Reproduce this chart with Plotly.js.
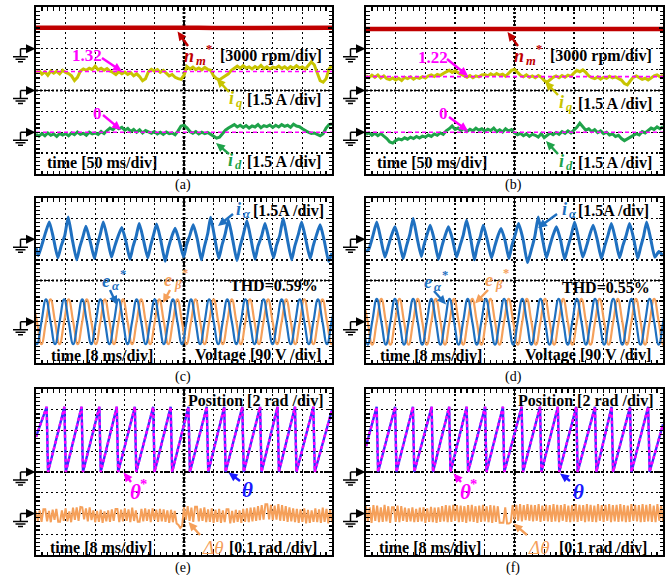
<!DOCTYPE html>
<html><head><meta charset="utf-8">
<script src="https://cdn.plot.ly/plotly-3.0.1.min.js"></script>
<style>html,body{margin:0;padding:0;background:#fff}</style>
</head><body><div id="chart" style="width:667px;height:575px"></div>
<script>
// ---------------- DATA ----------------
// (a),(b): time grid 0..500 ms, 5 ms step
const nm_a = [3005,2990,3010,2995,3000,3012,2988,3004,2996,3008,2992,3006,2998,3010,2990,3002,3008,2994,3006,2998,3004];
const nm_b = [2830,2838,2825,2835,2828,2840,2830,2824,2836,2830,2828,2838,2832,2826,2835,2830,2838,2828,2832,2836,2830];
const iq_a = [1.30,1.42,1.18,1.35,1.10,1.40,1.25,1.38,1.20,1.45,
 1.30,1.22,1.05,0.72,0.95,1.40,1.55,1.45,1.60,1.50,
 1.75,1.48,1.60,1.45,1.58,1.40,1.30,1.15,1.35,1.20,
 1.32,1.15,1.28,1.05,1.20,1.00,0.70,0.85,1.35,1.52,
 1.40,1.50,1.30,1.45,1.25,1.05,1.15,0.95,0.85,0.80,
 1.10,1.72,1.55,1.68,1.50,1.62,1.48,1.66,1.52,1.45,
 1.05,0.85,0.78,0.92,1.05,1.20,1.45,1.62,1.75,1.60,
 1.78,1.62,1.70,1.55,1.72,1.60,1.80,1.58,1.70,1.55,
 1.68,1.62,1.75,1.58,1.70,1.55,1.72,1.60,1.78,1.62,
 1.70,1.55,1.80,2.05,1.85,1.20,0.70,0.60,0.85,1.55,1.80];
const id_a = [-0.15,-0.28,-0.10,-0.25,-0.05,-0.22,-0.12,-0.30,-0.08,-0.20,
 -0.10,-0.25,-0.05,-0.18,0.02,-0.15,-0.08,-0.22,0.00,-0.12,
 -0.05,-0.15,0.05,-0.10,0.12,0.30,0.18,0.40,0.25,0.35,
 0.15,0.28,0.05,0.20,0.00,0.18,-0.05,0.12,0.02,-0.08,
 0.05,-0.12,0.00,-0.15,0.02,-0.10,-0.05,-0.18,0.10,0.45,
 0.50,0.32,0.05,-0.08,0.05,-0.12,0.00,-0.10,-0.02,-0.15,
 -0.30,-0.42,-0.35,-0.10,0.15,0.30,0.45,0.55,0.38,0.50,
 0.35,0.48,0.30,0.45,0.38,0.55,0.32,0.48,0.40,0.52,
 0.35,0.50,0.38,0.55,0.42,0.50,0.35,0.58,0.45,0.40,
 0.25,0.10,0.00,-0.08,-0.05,-0.15,-0.25,-0.10,0.30,0.55,0.60];
const iq_b = [1.05,0.92,1.10,0.95,1.12,0.90,1.05,0.85,0.78,0.90,
 0.75,0.88,0.72,0.95,0.85,0.98,0.82,0.95,0.88,1.00,
 0.90,1.05,1.12,1.00,1.15,1.08,1.22,1.35,1.45,1.30,
 1.42,1.28,1.15,1.02,0.95,1.08,0.92,1.05,0.98,1.12,
 1.15,1.05,1.20,1.08,1.22,1.10,1.18,1.02,1.25,1.45,
 1.52,1.30,1.10,0.98,1.12,0.95,1.05,0.92,1.08,0.95,
 0.72,0.60,0.78,0.95,1.05,0.92,1.08,0.95,1.10,1.02,
 1.25,1.45,1.35,1.48,1.30,1.05,0.92,0.85,0.98,0.82,
 0.95,0.88,1.02,0.90,0.98,0.85,0.75,0.50,0.40,0.70,
 0.95,1.05,0.92,0.80,0.88,0.75,0.90,1.05,1.12,0.98,1.10];
const id_b = [-0.15,-0.05,-0.22,-0.08,-0.25,-0.10,-0.28,-0.45,-0.70,-0.78,
 -0.60,-0.48,-0.55,-0.40,-0.50,-0.35,-0.45,-0.30,-0.42,-0.28,
 -0.35,-0.20,-0.30,-0.12,-0.22,-0.05,-0.15,0.10,0.25,0.45,
 0.20,0.30,0.12,0.28,0.05,0.22,0.10,0.30,0.15,0.25,
 0.08,0.22,0.12,0.30,0.05,0.18,0.02,0.25,0.10,0.20,
 -0.05,-0.18,-0.08,-0.25,-0.12,-0.30,-0.15,-0.22,-0.35,-0.10,
 -0.38,-0.20,-0.05,-0.18,-0.02,-0.15,0.05,-0.08,0.10,-0.05,
 0.15,0.35,0.65,0.40,0.15,0.25,0.05,0.18,-0.02,0.10,
 -0.10,0.00,-0.20,-0.12,-0.30,-0.22,-0.45,-0.60,-0.48,-0.35,
 -0.28,-0.10,-0.20,0.05,-0.05,0.15,0.30,0.20,0.38,0.25,0.40];
const iqRef_a = 1.37, iqRef_b = 1.0, idRef = 0;

// (c),(d): phase current i_alpha [A] at read time points [ms]
const iaT_c = [0,0.6,1.6,2.6, 3.6,4.7,5.9,6.8,7.8, 8.7,9.8,11.0,11.8,12.7, 13.5,14.6,15.8,16.6,17.4,
 18.2,19.3,20.4,21.3,22.3, 23.2,24.3,25.4,26.2,27.1, 27.9,29.0,30.2,31.0,31.8, 32.6,33.7,34.9,35.8,36.7,
 37.6,38.7,39.9,40.7,41.6, 42.5,43.6,44.7,45.5,46.4, 47.2,48.3,49.4,50.2,51.1, 52.0,53.1,54.3,55.1,56.0,
 57.0,58.1,59.2,60.0,61.0, 61.9,63.0,64.2,65.0,65.9, 66.8,67.9,69.1,69.9,70.9, 71.8,72.9,74.1,74.9,75.8,
 76.8,77.9,79.1,80];
const iaV_c = [-0.6,-1.2,-0.4,0.5, 1.26,0.1,-1.35,-0.5,0.3, 1.62,0.0,-1.50,-0.6,0.2, 0.95,-0.1,-1.40,-0.4,0.4,
 1.26,0.05,-1.30,-0.5,0.3, 0.85,-0.15,-1.45,-0.55,0.25, 1.14,0.0,-1.35,-0.45,0.35, 1.10,-0.05,-1.60,-0.6,0.2,
 0.80,-0.1,-1.30,-0.4,0.3, 1.05,0.0,-1.50,-0.55,0.4, 1.60,0.1,-1.40,-0.5,0.35, 1.40,0.05,-1.55,-0.6,0.3,
 1.35,0.0,-1.45,-0.5,0.25, 1.15,-0.05,-1.35,-0.45,0.3, 1.50,0.05,-1.50,-0.55,0.35, 1.25,0.0,-1.40,-0.5,0.3,
 1.05,-0.1,-1.60,-1.0];
const iaT_d = [0,0.8,1.9, 2.9,4.0,5.1,6.0,6.9, 7.8,8.9,10.0,10.9,11.8, 12.7,13.8,14.9,15.6,16.4,
 17.3,18.4,19.5,20.4,21.3, 22.2,23.3,24.4,25.3,26.2, 27.1,28.2,29.2,29.9,30.8, 31.6,32.7,33.8,34.7,35.6,
 36.4,37.5,38.5,39.3,40.2, 41.1,42.3,43.5,44.6,45.5, 46.4,47.5,48.6,49.5,50.4, 51.3,52.4,53.5,54.4,55.3,
 56.2,57.3,58.4,59.4,60.3, 61.2,62.3,63.4,64.3,65.2, 66.1,67.2,68.3,69.2,70.1, 71.0,72.1,73.2,74.0,74.8,
 75.6,76.7,77.8,78.9,80];
const iaV_d = [-0.9,-0.7,0.3, 1.26,0.0,-1.30,-0.5,0.3, 0.90,-0.1,-1.40,-0.5,0.35, 1.51,0.05,-1.25,-0.45,0.3,
 1.02,-0.05,-1.45,-0.55,0.25, 0.90,0.0,-1.30,-0.5,0.3, 1.38,0.05,-1.50,-0.6,0.2, 1.02,-0.1,-1.35,-0.5,0.3,
 0.78,-0.15,-1.40,-0.45,0.35, 1.14,0.0,-1.70,-0.7,0.25, 1.62,0.1,-1.35,-0.5,0.3, 0.90,-0.05,-1.45,-0.55,0.3,
 1.26,0.0,-1.30,-0.5,0.35, 1.02,-0.05,-1.40,-0.5,0.3, 1.14,0.0,-1.35,-0.45,0.3, 1.14,0.05,-1.40,-0.55,0.25,
 1.26,0.0,-1.3,-0.9,-1.2];

// back-EMF references [V], sampled every quarter period
const eStart_c = -0.975, eStart_d = -0.775, eStep = 1.225;
const eAlpha_c = [0,-98,0,98,0,-98,0,98,0,-98,0,98,0,-98,0,98,0,-98,0,98,0,-98,0,98,0,-98,0,98,0,-98,0,98,0,-98,0,98,
 0,-98,0,98,0,-98,0,98,0,-98,0,98,0,-98,0,98,0,-98,0,98,0,-98,0,98,0,-98,0,98,0,-98,0,98];
const eBeta_c = [98,0,-98,0,98,0,-98,0,98,0,-98,0,98,0,-98,0,98,0,-98,0,98,0,-98,0,98,0,-98,0,98,0,-98,0,98,0,-98,0,
 98,0,-98,0,98,0,-98,0,98,0,-98,0,98,0,-98,0,98,0,-98,0,98,0,-98,0,98,0,-98,0,98,0,-98,0];
const eAlpha_d = [0,-100,0,100,0,-100,0,100,0,-100,0,100,0,-100,0,100,0,-100,0,100,0,-100,0,100,0,-100,0,100,0,-100,0,100,0,-100,0,100,
 0,-100,0,100,0,-100,0,100,0,-100,0,100,0,-100,0,100,0,-100,0,100,0,-100,0,100,0,-100,0,100,0,-100,0,100];
const eBeta_d = [100,0,-100,0,100,0,-100,0,100,0,-100,0,100,0,-100,0,100,0,-100,0,100,0,-100,0,100,0,-100,0,100,0,-100,0,100,0,-100,0,
 100,0,-100,0,100,0,-100,0,100,0,-100,0,100,0,-100,0,100,0,-100,0,100,0,-100,0,100,0,-100,0,100,0,-100,0];

// (e),(f): rotor position [rad]
const thT_e = [0,2.88,3.25,7.68,8.05,12.32,12.7,17.12,17.5,21.84,22.2,26.72,27.1,31.68,32.05,36.4,36.8,41.2,41.6,
 46.16,46.55,50.88,51.25,55.76,56.15,60.56,60.95,65.28,65.65,70.0,70.4,74.96,75.35,80];
const thV_e = [3.4,6.28,0,6.28,0,6.28,0,6.28,0,6.28,0,6.28,0,6.28,0,6.28,0,6.28,0,
 6.28,0,6.28,0,6.28,0,6.28,0,6.28,0,6.28,0,6.28,0,6.0];
const thT_f = [0,2.88,3.25,7.84,8.2,12.64,13.0,17.68,18.05,22.4,22.75,27.12,27.5,32.08,32.45,36.88,37.25,41.92,42.3,
 46.88,47.25,51.68,52.05,56.64,57.0,61.68,62.05,66.16,66.55,71.12,71.5,76.0,76.4,80];
const thV_f = [2.5,6.28,0,6.28,0,6.28,0,6.28,0,6.28,0,6.28,0,6.28,0,6.28,0,6.28,0,
 6.28,0,6.28,0,6.28,0,6.28,0,6.28,0,6.28,0,6.28,0,4.6];
// position error [mrad], 0.5 ms step
const dth_e = [10,-35,15,-40,20,20,-38,12,-42,18, -30,22,-40,-40,15,-35,25,-38,10,-42,
 28,-30,30,-35,32,30,-28,25,-38,30, -32,15,-42,12,-40,18,-45,10,-38,15,
 -40,20,-35,22,22,-42,18,-38,25,-35, 20,-42,28,-36,15,-40,-40,22,-38,25,
 -35,20,-42,25,-30,18,-40,22,-38,20, -40,15,-45,18,-42,12,-48,-55,-70,-60,
 30,-30,35,-35,28,-40,32,32,-38,25, -35,30,-42,20,-40,25,-45,18,-40,22,
 -45,15,-42,20,20,-48,12,-44,18,-40, 15,-45,22,-40,25,-42,28,-38,30,-35,
 35,-32,40,-30,45,45,-28,42,-32,38, -30,45,-35,40,-35,35,-40,30,-38,25,
 -42,22,-45,20,-40,25,-48,18,-45,15, -40,25,-42,20,-45,28,-40,22,-48,20, -42];
const dth_f = [35,-40,30,-45,40,-35,38,-42,30,-40, 42,-38,35,-45,30,30,-40,38,-42,35,
 -35,28,-40,25,-38,30,-42,22,-40,28, -38,30,-45,25,-40,32,-42,28,-45,30,
 -40,35,-38,40,-42,38,-40,42,-35,40, -42,38,-40,35,-45,40,-38,42,-40,35,
 -45,38,-40,42,-38,35,-42,40,-45,38, -40,35,-45,-45,-45,30,-48,-48,-42,40,
 -30,42,-35,45,-38,40,-32,45,-35,42, -38,40,-35,45,-40,38,-35,42,-38,40,
 -40,45,-38,42,-42,40,-35,45,-40,38, -42,40,-38,45,-40,42,-35,40,-42,45,
 -38,42,-40,38,-42,45,-35,40,-40,42, -35,45,-42,40,-38,42,-40,45,-38,40,
 -42,38,-40,45,-35,42,-38,40,-42,45, -40,42,-38,45,-40,38,-42,45,-35,40, -38];

// ---------------- LAYOUT HELPERS ----------------
const W = 667, H = 575;
const SERIF = '"Liberation Serif", "Times New Roman", serif';
const px = x => x / W, py = y => 1 - y / H;
const P = {
  a:{id:'',  L:36,  R:332, T:7,   B:174, xmax:500},
  b:{id:'2', L:366, R:663, T:7,   B:174, xmax:500},
  c:{id:'3', L:36,  R:332, T:198, B:363, xmax:80},
  d:{id:'4', L:366, R:663, T:198, B:363, xmax:80},
  e:{id:'5', L:36,  R:332, T:389, B:555, xmax:80},
  f:{id:'6', L:366, R:663, T:389, B:555, xmax:80}
};
const layout = {width:W, height:H, margin:{l:0,r:0,t:0,b:0}, paper_bgcolor:'#fff', plot_bgcolor:'#fff',
  showlegend:false, shapes:[], annotations:[], font:{family:SERIF}};
const traces = [];
const shapes = layout.shapes, anns = layout.annotations;

function axisCfg(dom, range, dtick, anchor){
  return {domain:dom, range:range, dtick:dtick, tick0:0, showgrid:true, gridcolor:'#000', gridwidth:1.3,
    griddash:'1.5px,3.5px', zeroline:false, showline:true, linecolor:'#000', linewidth:2.2, mirror:'allticks',
    ticks:'inside', ticklen:4, tickwidth:1.3, tickcolor:'#000', showticklabels:false, fixedrange:true, anchor:anchor,
    minor:{dtick:dtick/5, ticks:'inside', ticklen:3.5, tickwidth:1.2, tickcolor:'#000', showgrid:false}};
}
for (const k in P){
  const p = P[k];
  layout['xaxis'+p.id] = axisCfg([px(p.L), px(p.R)], [0, p.xmax], p.xmax/10, 'y'+p.id);
  layout['yaxis'+p.id] = axisCfg([py(p.B), py(p.T)], [-4, 4], 1, 'x'+p.id);
  shapes.push({type:'line', xref:'x'+p.id, yref:'y'+p.id+' domain', x0:p.xmax/2, x1:p.xmax/2, y0:0, y1:1,
    line:{color:'#000', width:2.8, dash:'2px,2px'}, layer:'below'});
  shapes.push({type:'line', xref:'x'+p.id+' domain', yref:'y'+p.id, x0:0, x1:1, y0:0, y1:0,
    line:{color:'#000', width:2.2, dash:'2px,2px'}, layer:'below'});
}
function addLine(k, x, y, line){
  const p = P[k];
  traces.push({type:'scatter', mode:'lines', x:x, y:y, xaxis:'x'+p.id, yaxis:'y'+p.id, line:line, hoverinfo:'skip'});
}
const grid = (n, step, start) => Array.from({length:n}, (_, i) => (start||0) + i*step);
const scale = (arr, s, g) => arr.map(v => v/s + g);
const dashRef = {color:'#ff00ff', width:1.6, dash:'4px,3px'};
const C = {red:'#c00000', olive:'#c8c400', green:'#1fa34a', blue:'#1f70c0', orange:'#f5a05a', mag:'#ff00ff', tblue:'#1a1aff', pblue:'#3030ff'};

// ---------------- TRACES ----------------
const tAB = grid(101, 5), tN = grid(21, 25);
addLine('a', tN, scale(nm_a, 3000, 2), {color:C.red, width:4.5});
addLine('a', tAB, scale(iq_a, 1.5, 0), {color:C.olive, width:3});
addLine('a', tAB, scale(id_a, 1.5, -2), {color:C.green, width:3});
addLine('a', [0,500], scale([iqRef_a,iqRef_a], 1.5, 0), dashRef);
addLine('a', [0,500], scale([idRef,idRef], 1.5, -2), dashRef);
addLine('b', tN, scale(nm_b, 3000, 2), {color:C.red, width:4.5});
addLine('b', tAB, scale(iq_b, 1.5, 0), {color:C.olive, width:3});
addLine('b', tAB, scale(id_b, 1.5, -2), {color:C.green, width:3});
addLine('b', [0,500], scale([iqRef_b,iqRef_b], 1.5, 0), dashRef);
addLine('b', [0,500], scale([idRef,idRef], 1.5, -2), dashRef);
const eT_c = grid(eAlpha_c.length, eStep, eStart_c), eT_d = grid(eAlpha_d.length, eStep, eStart_d);
const sine = c => ({color:c, width:2.2, shape:'spline', smoothing:1.3});
addLine('c', iaT_c, scale(iaV_c, 1.5, 2), {color:C.blue, width:3, shape:'spline', smoothing:0.5});
addLine('c', eT_c, scale(eBeta_c, 90, -2), sine(C.orange));
addLine('c', eT_c, scale(eAlpha_c, 90, -2), sine(C.blue));
addLine('d', iaT_d, scale(iaV_d, 1.5, 2), {color:C.blue, width:3, shape:'spline', smoothing:0.5});
addLine('d', eT_d, scale(eBeta_d, 90, -2), sine(C.orange));
addLine('d', eT_d, scale(eAlpha_d, 90, -2), sine(C.blue));
const tD = grid(161, 0.5);
addLine('e', thT_e, scale(thV_e, 2, 0), {color:C.pblue, width:2.4});
addLine('e', thT_e, scale(thV_e, 2, 0), {color:C.mag, width:2.4, dash:'3px,3px'});
addLine('e', tD, scale(dth_e.map(v=>v/1000), 0.1, -2), {color:C.orange, width:2});
addLine('f', thT_f, scale(thV_f, 2, 0), {color:C.pblue, width:2.4});
addLine('f', thT_f, scale(thV_f, 2, 0), {color:C.mag, width:2.4, dash:'3px,3px'});
addLine('f', tD, scale(dth_f.map(v=>v/1000), 0.1, -2), {color:C.orange, width:2});

// ---------------- GROUND MARKERS & ARROWS (shapes) ----------------
function seg(x0,y0,x1,y1,color,w){ shapes.push({type:'line', xref:'paper', yref:'paper', x0:px(x0), y0:py(y0), x1:px(x1), y1:py(y1), line:{color:color||'#000', width:w||1.5}}); }
function tri(pts, color){
  shapes.push({type:'path', xref:'paper', yref:'paper', fillcolor:color, line:{width:0},
    path:'M ' + pts.map(q => px(q[0]) + ' ' + py(q[1])).join(' L ') + ' Z'});
}
function ground(k, lvl){
  const p = P[k], xo = p.L - 36;
  const y = p.T + (4 - lvl) * (p.B - p.T) / 8;
  tri([[xo+26, y-4.5],[xo+35.5, y],[xo+26, y+4.5]], '#000');
  seg(xo+20.5, y, xo+27, y); seg(xo+20.5, y, xo+20.5, y+8);
  seg(xo+13, y+8, xo+28, y+8); seg(xo+15.5, y+10.5, xo+25.5, y+10.5); seg(xo+18, y+13, xo+23, y+13);
}
[['a',[2,0,-2]],['b',[2,0,-2]],['c',[2,-2]],['d',[2,-2]],['e',[0,-2]],['f',[0,-2]]].forEach(([k,l]) => l.forEach(v => ground(k, v)));
function arr(tx, ty, hx, hy, color){
  const dx = hx-tx, dy = hy-ty, L = Math.hypot(dx, dy), ux = dx/L, uy = dy/L;
  const hl = 9, hw = 4.2, bx = hx-ux*hl, by = hy-uy*hl;
  seg(tx, ty, bx+ux, by+uy, color, 2.4);
  tri([[hx,hy],[bx-uy*hw, by+ux*hw],[bx+uy*hw, by-ux*hw]], color);
}

// ---------------- TEXT ----------------
function txt(x, y, t, color, size, anchor){
  anns.push({xref:'paper', yref:'paper', x:px(x), y:py(y), text:t, showarrow:false, xanchor:anchor||'center', yanchor:'middle',
    font:{family:SERIF, size:size||16, color:color||'#000'}});
}
// symbol with separately placed subscript / superscript
function sym(x, y, main, sub, sup, color, size, wMain, subW){
  const s2 = size*0.7;
  txt(x, y, '<b><i>'+main+'</i></b>', color, size);
  const xr = x + wMain/2 - 0.5;
  if (sub){ txt(xr, y + size*0.3, '<b><i>'+sub+'</i></b>', color, s2, 'left'); }
  const xs = xr + (sub ? subW : 0);
  if (sup){ txt(xs, y - size*0.4, '<b>'+sup+'</b>', color, s2, 'left'); }
}
// (a)
txt(87,56,'<b>1.32</b>',C.mag,17); arr(102,58,122,71.5,C.mag);
sym(189,56,'n','m','*',C.red,18,10,10.5); arr(188,46,177.5,31.5,C.red);
txt(271,56,'<b>[3000 rpm/div]</b>');
sym(231,98,'i','q','',C.olive,18,6,0); arr(229,92,216.5,78.5,C.olive);
txt(284,99,'<b>[1.5 A /div]</b>');
txt(97,113,'<b>0</b>',C.mag,17); arr(103,115,121,130,C.mag);
sym(230,160,'i','d','',C.green,18,6,0); arr(229,154,216,143,C.green);
txt(284,161,'<b>[1.5 A /div]</b>');
txt(102,163,'<b>time [50 ms/div]</b>');
txt(183,185,'(a)','#000',14);
// (b)
txt(433,57,'<b>1.22</b>',C.mag,17); arr(447,59,468,76,C.mag);
sym(519,56,'n','m','*',C.red,18,10,10.5); arr(518,46,507.5,32,C.red);
txt(601,56,'<b>[3000 rpm/div]</b>');
sym(561,102,'i','q','',C.olive,18,6,0); arr(558,95,545,81.5,C.olive);
txt(615,103,'<b>[1.5 A /div]</b>');
txt(443,113,'<b>0</b>',C.mag,17); arr(449,117,468,131,C.mag);
sym(561,161,'i','d','',C.green,18,6,0); arr(558,154,546,141,C.green);
txt(615,162,'<b>[1.5 A /div]</b>');
txt(432,163,'<b>time [50 ms/div]</b>');
txt(513,185,'(b)','#000',14);
// (c)
sym(238,209,'i','α','',C.blue,18,6,0); arr(233,214,218,226,C.blue);
txt(288,210,'<b>[1.5A /div]</b>');
sym(106,281,'e','α','*',C.blue,18,9,8); arr(110,290,117,305,C.blue);
sym(168,280,'e','β','*',C.orange,18,9,7.5); arr(170,290,163,303,C.orange);
txt(274,285,'<b>THD=0.59%</b>');
txt(102,355,'<b>time [8 ms/div]</b>');
txt(258,355,'<b>Voltage [90 V /div]</b>');
txt(183,377,'(c)','#000',14);
// (d)
sym(564,209,'i','α','',C.blue,18,6,0); arr(557,214,538,228,C.blue);
txt(613,210,'<b>[1.5A /div]</b>');
sym(428,282,'e','α','*',C.blue,18,9,8); arr(434,291,446,304.5,C.blue);
sym(489,280,'e','β','*',C.orange,18,9,7.5); arr(488,290,475,303.5,C.orange);
txt(606,287,'<b>THD=0.55%</b>');
txt(431,355,'<b>time [8 ms/div]</b>');
txt(588,355,'<b>Voltage [90 V /div]</b>');
txt(513,377,'(d)','#000',14);
// (e)
txt(256,400,'<b>Position [2 rad /div]</b>');
sym(135,492,'θ','','*',C.mag,21,7,0); arr(131,482,123.5,472.5,C.mag);
txt(247,490,'<b><i>θ</i></b>',C.tblue,21); arr(240,481,228.5,472.5,C.tblue);
txt(212,547,'<i>Δθ</i>',C.orange,19); arr(200,535,188.5,522,C.orange);
txt(273,547,'<b>[0.1 rad /div]</b>');
txt(101,547,'<b>time [8 ms/div]</b>');
txt(183,568,'(e)','#000',14);
// (f)
txt(586,400,'<b>Position [2 rad /div]</b>');
sym(465,492,'θ','','*',C.mag,21,7,0); arr(461,482,453.5,473.5,C.mag);
txt(578,492,'<b><i>θ</i></b>',C.tblue,21); arr(570,481,560,473.5,C.tblue);
txt(538,547,'<i>Δθ</i>',C.orange,19); arr(527,535,513.5,523.5,C.orange);
txt(603,547,'<b>[0.1 rad /div]</b>');
txt(430,547,'<b>time [8 ms/div]</b>');
txt(513,568,'(f)','#000',14);

Plotly.newPlot('chart', traces, layout, {displayModeBar:false, staticPlot:true});
</script>
</body></html>
